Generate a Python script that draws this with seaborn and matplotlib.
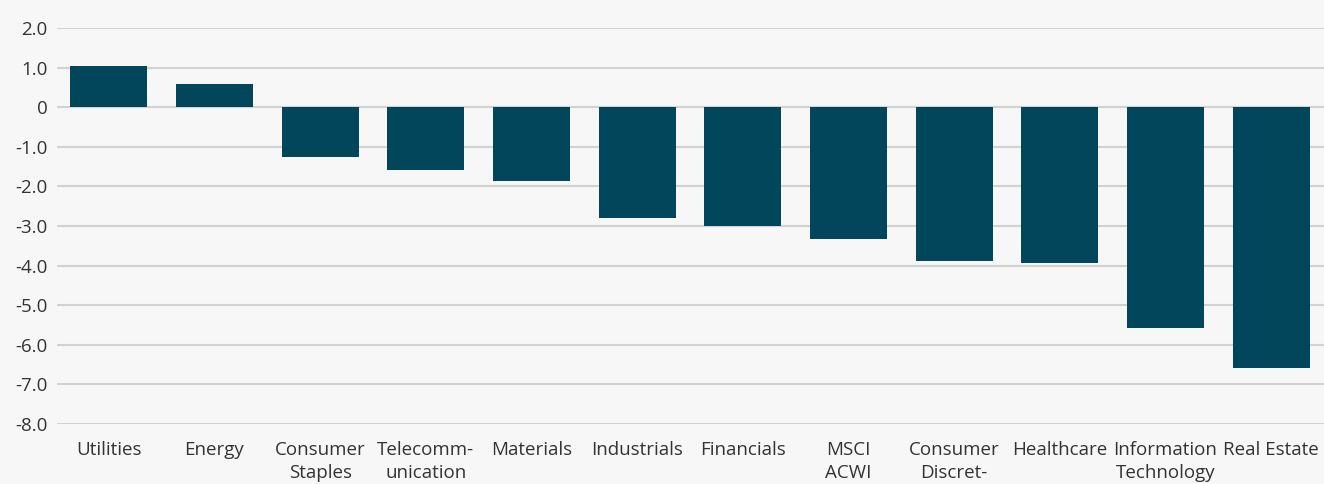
import numpy as np
import pandas as pd
import matplotlib
matplotlib.use("Agg")
import matplotlib.pyplot as plt
import seaborn as sns

# dados do gráfico (só as linhas de rótulo visíveis na imagem)
setores = ['Utilities', 'Energy', 'Consumer\nStaples', 'Telecomm-\nunication', 'Materials',
           'Industrials', 'Financials', 'MSCI\nACWI', 'Consumer\nDiscret-',
           'Healthcare', 'Information\nTechnology', 'Real Estate']
valores = [1.04, 0.58, -1.26, -1.59, -1.87, -2.80, -3.00, -3.33, -3.89, -3.94, -5.58, -6.59]
yticks = [2, 1, 0, -1, -2, -3, -4, -5, -6, -7, -8]
ytick_labels = ['2.0', '1.0', '0', '-1.0', '-2.0', '-3.0', '-4.0', '-5.0', '-6.0', '-7.0', '-8.0']

sns.set_theme(style='white')
plt.rcParams['font.family'] = ['Open Sans', 'DejaVu Sans']

df = pd.DataFrame({'setor': setores, 'valor': valores})

fig = plt.figure(figsize=(13.24, 4.84), dpi=100)
fig.patch.set_facecolor('#f7f7f7')
ax = fig.add_axes([57 / 1324, 1 - 424 / 484, 1 - 57 / 1324, (424 - 28) / 484])
ax.set_facecolor('#f7f7f7')

sns.barplot(data=df, x='setor', y='valor', color='#02465b', saturation=1,
            width=0.73, linewidth=0, ax=ax, zorder=3)

ax.set_ylim(-8, 2)
ax.set_xlim(-0.49, 11.5)
ax.set_yticks(yticks)
ax.set_yticklabels(ytick_labels)
for y in yticks:
    ax.axhline(y, color='#d2d2d2', lw=1.5, zorder=1)

ax.set_xlabel('')
ax.set_ylabel('')
sns.despine(ax=ax, left=True, bottom=True)
ax.tick_params(axis='both', length=0, labelsize=13.5, colors='#333333')
ax.tick_params(axis='y', pad=7)
ax.tick_params(axis='x', pad=12)
for t in ax.get_xticklabels():
    t.set_linespacing(1.4)

fig.savefig('out.png', dpi=100, facecolor=fig.get_facecolor())
